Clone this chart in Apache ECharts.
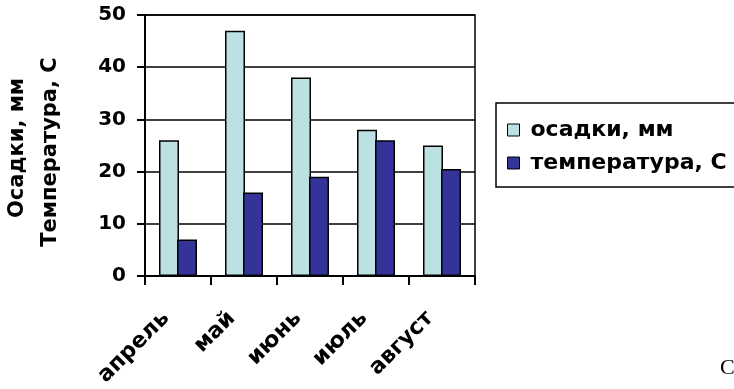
<!DOCTYPE html>
<html>
<head>
<meta charset="utf-8">
<script src="https://cdn.jsdelivr.net/npm/echarts@6/dist/echarts.min.js"></script>
<style>
  html, body { margin: 0; padding: 0; background: #fff; }
  #chart { width: 734px; height: 389px; }
</style>
</head>
<body>
<div id="chart"></div>
<script>
// Monthly rainfall and temperature
const months = ['апрель', 'май', 'июнь', 'июль', 'август'];
const rainfall = [26, 47, 38, 28, 25];          // осадки, мм
const temperature = [7, 16, 19, 26, 20.5];      // температура, С
const seriesNames = ['осадки, мм', 'температура, С'];
const yTitleLines = ['Осадки, мм', 'Температура, С'];
const yTicks = { min: 0, max: 50, step: 10 };

const FONT = 'DejaVu Sans';
const chart = echarts.init(document.getElementById('chart'), null, { renderer: 'canvas' });

const titleStyle = { fontFamily: FONT, fontWeight: 'bold', fontSize: 21, fill: '#000', align: 'center', verticalAlign: 'middle' };

chart.setOption({
  animation: false,
  backgroundColor: '#ffffff',
  grid: {
    left: 145, right: 259, top: 15, bottom: 112,
    show: true, borderColor: '#000', borderWidth: 1.5, backgroundColor: 'transparent'
  },
  legend: {
    orient: 'vertical',
    left: 496, top: 103,
    padding: [16, 10, 13, 11],
    itemGap: 11,
    itemWidth: 12, itemHeight: 12,
    icon: 'rect',
    itemStyle: { borderColor: '#000', borderWidth: 1 },
    textStyle: {
      fontFamily: FONT, fontWeight: 'bold', fontSize: 22, color: '#000',
      lineHeight: 22, padding: [0, 0, 0, 6]
    },
    data: seriesNames
  },
  xAxis: {
    type: 'category',
    data: months,
    axisLine: { lineStyle: { color: '#000', width: 2 } },
    axisTick: { show: true, length: 9, lineStyle: { color: '#000', width: 2 } },
    axisLabel: {
      interval: 0, rotate: 45, margin: 27,
      padding: [0, 17, 0, 0],
      fontFamily: FONT, fontWeight: 'bold', fontSize: 22, color: '#000'
    }
  },
  yAxis: {
    type: 'value',
    min: yTicks.min, max: yTicks.max, interval: yTicks.step,
    axisLine: { show: true, lineStyle: { color: '#000', width: 2 } },
    axisTick: { show: true, length: 8, lineStyle: { color: '#000', width: 2 } },
    axisLabel: { margin: 19, fontFamily: FONT, fontWeight: 'bold', fontSize: 20, color: '#000' },
    splitLine: { show: true, lineStyle: { color: '#000', width: 1.5 } }
  },
  series: [
    {
      name: seriesNames[0], type: 'bar', data: rainfall,
      barWidth: 20, barGap: '-10%',
      itemStyle: { color: '#BCE1E3', borderColor: '#000', borderWidth: 1.5 }
    },
    {
      name: seriesNames[1], type: 'bar', data: temperature,
      barWidth: 20, barGap: '-10%',
      itemStyle: { color: '#333399', borderColor: '#000', borderWidth: 1.5 }
    }
  ],
  graphic: [
    // y-axis title, two vertical lines
    { type: 'text', x: 18, y: 148, rotation: Math.PI / 2, style: Object.assign({ text: yTitleLines[0] }, titleStyle) },
    { type: 'text', x: 51, y: 152, rotation: Math.PI / 2, style: Object.assign({ text: yTitleLines[1] }, titleStyle) },
    {
      // legend frame, running past the right edge of the page
      type: 'rect', silent: true, z: 0,
      shape: { x: 496, y: 103, width: 300, height: 84 },
      style: { fill: 'none', stroke: '#000', lineWidth: 1.5 }
    },
    {
      type: 'text', left: 720, top: 357,
      style: { text: 'С', fontFamily: 'Liberation Serif', fontSize: 22, fill: '#000' }
    }
  ]
});
</script>
</body>
</html>
